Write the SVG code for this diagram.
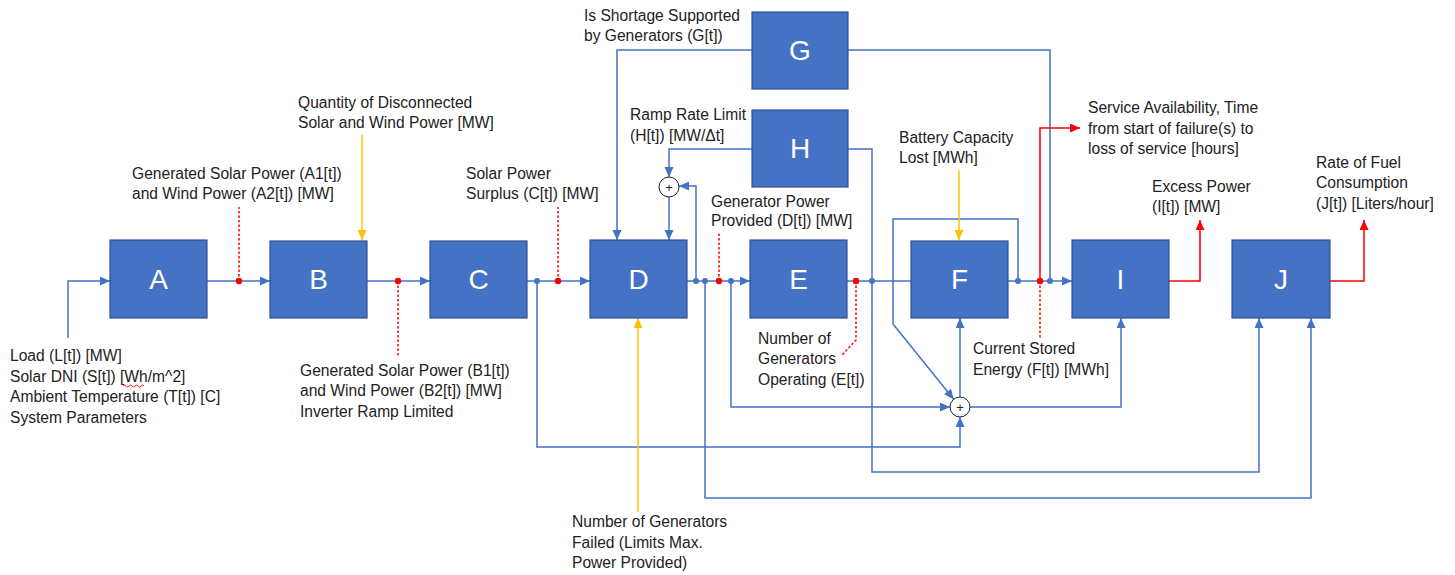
<svg xmlns="http://www.w3.org/2000/svg" width="1455" height="575" viewBox="0 0 1455 575">
<style>
.box{fill:#4472C4;stroke:#2F528F;stroke-width:1.2}
.bl{font-family:"Liberation Sans",Arial,sans-serif;font-size:28px;fill:#fff;text-anchor:middle}
.t{font-family:"Liberation Sans",Arial,sans-serif;font-size:15.6px;fill:#222}
.c{fill:none;stroke:#4472C4;stroke-width:1.5}
.ca{fill:none;stroke:#4472C4;stroke-width:1.5;marker-end:url(#ab)}
.r{fill:none;stroke:#FF0000;stroke-width:1.5;marker-end:url(#ar)}
.rd{fill:none;stroke:#FF0000;stroke-width:1.5;stroke-dasharray:2.5 2}
.o{fill:none;stroke:#FFC000;stroke-width:1.5;marker-end:url(#ao)}
.db{fill:#4472C4}
.dr{fill:#FF0000}
.sum{fill:#fff;stroke:#222;stroke-width:1}
.pl{font-family:"Liberation Sans",Arial,sans-serif;font-size:13px;fill:#222;text-anchor:middle}
</style>
<defs>
<marker id="ab" markerUnits="userSpaceOnUse" markerWidth="11" markerHeight="10" refX="10" refY="4.5" orient="auto"><path d="M0,0 L10,4.5 L0,9 z" fill="#4472C4"/></marker>
<marker id="ar" markerUnits="userSpaceOnUse" markerWidth="11" markerHeight="10" refX="10" refY="4.5" orient="auto"><path d="M0,0 L10,4.5 L0,9 z" fill="#FF0000"/></marker>
<marker id="ao" markerUnits="userSpaceOnUse" markerWidth="11" markerHeight="10" refX="10" refY="4.5" orient="auto"><path d="M0,0 L10,4.5 L0,9 z" fill="#FFC000"/></marker>
</defs>
<rect width="1455" height="575" fill="#fff"/>

<g id="connectors">
<path class="ca" d="M68,338 V281 H110"/>
<path class="ca" d="M207,281 H270"/>
<path class="ca" d="M367,281 H430"/>
<path class="ca" d="M527,281 H590"/>
<path class="ca" d="M687,281 H750"/>
<path class="c" d="M847,281 H911"/>
<path class="ca" d="M1008,281 H1072"/>
<path class="ca" d="M752,50 H617 V240"/>
<path class="c" d="M847,50 H1050 V281"/>
<path class="ca" d="M752,149 H669 V177"/>
<path class="ca" d="M669,197 V240"/>
<path class="ca" d="M696,281 V186 H679"/>
<path class="ca" d="M847,149 H872 V472 H1259 V318"/>
<path class="ca" d="M537,281 V447 H960 V417"/>
<path class="ca" d="M731,281 V407 H950"/>
<path class="ca" d="M705,281 V498 H1311 V318"/>
<path class="ca" d="M1018,281 V219 H893 V324 L953.7,399.2"/>
<path class="ca" d="M960,397 V318"/>
<path class="ca" d="M970,407 H1121 V318"/>
<path class="rd" d="M239,281 V207"/>
<path class="rd" d="M398,281 V357"/>
<path class="rd" d="M558,281 V207"/>
<path class="rd" d="M719,281 V233"/>
<path class="rd" d="M856,281 V340 L842,355"/>
<path class="rd" d="M1040,281 V339"/>
<path class="r" d="M1040,281 V128 H1080"/>
<path class="r" d="M1169,281 H1200 V220"/>
<path class="r" d="M1330,281 H1364 V220"/>
<path class="o" d="M362,135 V240"/>
<path class="o" d="M638,512 V318"/>
<path class="o" d="M959,170 V240"/>
<circle class="db" cx="537" cy="281" r="3"/>
<circle class="db" cx="696" cy="281" r="3"/>
<circle class="db" cx="705" cy="281" r="3"/>
<circle class="db" cx="731" cy="281" r="3"/>
<circle class="db" cx="872" cy="281" r="3"/>
<circle class="db" cx="1018" cy="281" r="3"/>
<circle class="db" cx="1050" cy="281" r="3"/>
<circle class="dr" cx="239" cy="281" r="3.2"/>
<circle class="dr" cx="398" cy="281" r="3.2"/>
<circle class="dr" cx="558" cy="281" r="3.2"/>
<circle class="dr" cx="719" cy="281" r="3.2"/>
<circle class="dr" cx="856" cy="281" r="3.2"/>
<circle class="dr" cx="1040" cy="281" r="3.2"/>
</g>

<g id="sum1"><circle class="sum" cx="669" cy="187" r="10"/><text class="pl" x="669" y="191.5">+</text></g>
<g id="sum2"><circle class="sum" cx="960" cy="407" r="10"/><text class="pl" x="960" y="411.5">+</text></g>

<g id="A"><rect class="box" x="110" y="240" width="97" height="78"/><text class="bl" x="158.5" y="289">A</text></g>
<g id="B"><rect class="box" x="270" y="241" width="97" height="77"/><text class="bl" x="318.5" y="289">B</text></g>
<g id="C"><rect class="box" x="430" y="241" width="97" height="77"/><text class="bl" x="478.5" y="289">C</text></g>
<g id="D"><rect class="box" x="590" y="240" width="97" height="78"/><text class="bl" x="638.5" y="289">D</text></g>
<g id="E"><rect class="box" x="750" y="240" width="97" height="78"/><text class="bl" x="798.5" y="289">E</text></g>
<g id="F"><rect class="box" x="911" y="241" width="97" height="77"/><text class="bl" x="959.5" y="289">F</text></g>
<g id="I"><rect class="box" x="1072" y="240" width="97" height="78"/><text class="bl" x="1120.5" y="289">I</text></g>
<g id="J"><rect class="box" x="1232" y="240" width="98" height="78"/><text class="bl" x="1281" y="289">J</text></g>
<g id="G"><rect class="box" x="752" y="12" width="96" height="77"/><text class="bl" x="800" y="60">G</text></g>
<g id="H"><rect class="box" x="752" y="110" width="96" height="77"/><text class="bl" x="800" y="158">H</text></g>

<g id="labels">
<text class="t" x="10" y="361">Load (L[t]) [MW]</text>
<text class="t" x="10" y="382">Solar DNI (S[t]) [Wh/m^2]</text>
<text class="t" x="10" y="402">Ambient Temperature (T[t]) [C]</text>
<text class="t" x="10" y="423">System Parameters</text>
<path d="M123,386 q1.5,-2 3,0 t3,0 t3,0 t3,0 t3,0 t3,0 t3,0" fill="none" stroke="#FF0000" stroke-width="0.9"/>
<text class="t" x="132" y="179">Generated Solar Power (A1[t])</text>
<text class="t" x="132" y="199">and Wind Power (A2[t]) [MW]</text>
<text class="t" x="298" y="108">Quantity of Disconnected</text>
<text class="t" x="298" y="128">Solar and Wind Power [MW]</text>
<text class="t" x="300" y="376">Generated Solar Power (B1[t])</text>
<text class="t" x="300" y="396">and Wind Power (B2[t]) [MW]</text>
<text class="t" x="300" y="417">Inverter Ramp Limited</text>
<text class="t" x="466" y="179">Solar Power</text>
<text class="t" x="466" y="199">Surplus (C[t]) [MW]</text>
<text class="t" x="584" y="21">Is Shortage Supported</text>
<text class="t" x="584" y="41">by Generators (G[t])</text>
<text class="t" x="630" y="120">Ramp Rate Limit</text>
<text class="t" x="630" y="141">(H[t]) [MW/Δt]</text>
<text class="t" x="711" y="207">Generator Power</text>
<text class="t" x="711" y="226">Provided (D[t]) [MW]</text>
<text class="t" x="758" y="344">Number of</text>
<text class="t" x="758" y="364">Generators</text>
<text class="t" x="758" y="385">Operating (E[t])</text>
<text class="t" x="572" y="527">Number of Generators</text>
<text class="t" x="572" y="548">Failed (Limits Max.</text>
<text class="t" x="572" y="568">Power Provided)</text>
<text class="t" x="899" y="143">Battery Capacity</text>
<text class="t" x="899" y="163">Lost [MWh]</text>
<text class="t" x="1088" y="113">Service Availability, Time</text>
<text class="t" x="1088" y="134">from start of failure(s) to</text>
<text class="t" x="1088" y="154">loss of service [hours]</text>
<text class="t" x="973" y="354">Current Stored</text>
<text class="t" x="973" y="375">Energy (F[t]) [MWh]</text>
<text class="t" x="1152" y="192">Excess Power</text>
<text class="t" x="1152" y="212">(I[t]) [MW]</text>
<text class="t" x="1316" y="168">Rate of Fuel</text>
<text class="t" x="1316" y="188">Consumption</text>
<text class="t" x="1316" y="209">(J[t]) [Liters/hour]</text>
</g>
</svg>
